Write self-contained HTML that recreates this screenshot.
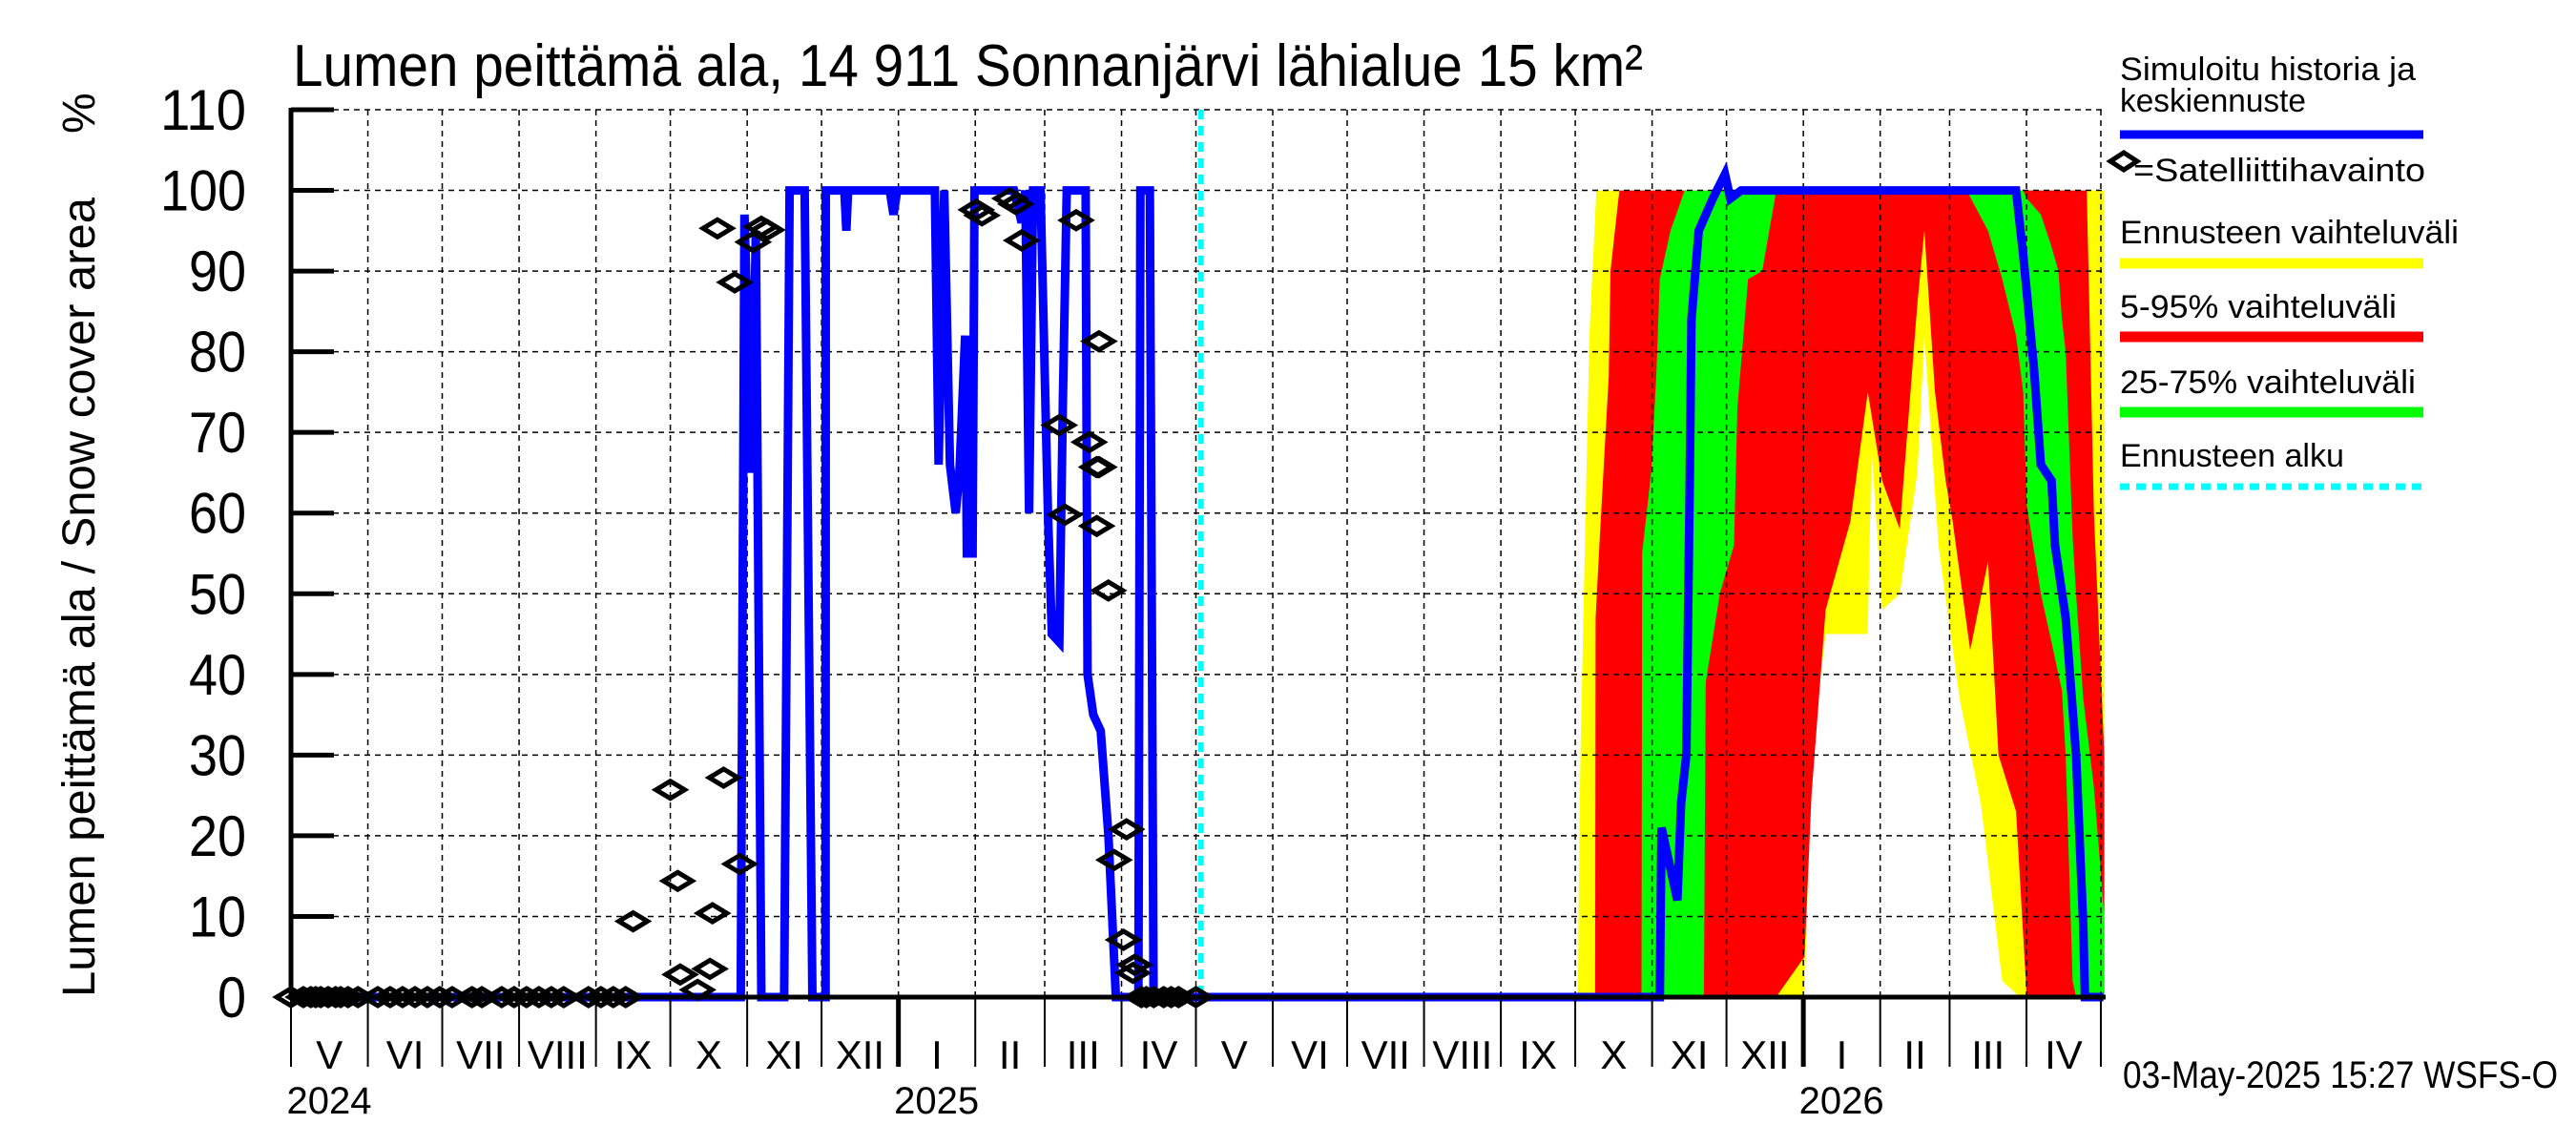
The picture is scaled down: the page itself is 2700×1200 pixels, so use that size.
<!DOCTYPE html>
<html><head><meta charset="utf-8"><style>
body{margin:0;background:#fff}
svg{display:block}
text{font-family:"Liberation Sans Narrow","Liberation Sans",sans-serif;fill:#000}
</style></head><body>
<svg id="chart" width="2700" height="1200" viewBox="0 0 2700 1200" xmlns="http://www.w3.org/2000/svg">
<rect width="2700" height="1200" fill="#fff"/>
<text x="307" y="90" font-size="62" textLength="1415" lengthAdjust="spacingAndGlyphs">Lumen peittämä ala, 14 911 Sonnanjärvi lähialue 15 km²</text>
<text transform="translate(99,1045) rotate(-90)" font-size="48" textLength="838" lengthAdjust="spacingAndGlyphs">Lumen peittämä ala / Snow cover area</text>
<text transform="translate(99,140) rotate(-90)" font-size="48">%</text>
<g id="bands"></g>
<g id="grid"></g>
<g id="series"></g>
<g id="axes"></g>
<g id="legend">
<text x="2222" y="84" font-size="34" textLength="310" lengthAdjust="spacingAndGlyphs">Simuloitu historia ja</text>
<text x="2222" y="117" font-size="34" textLength="195" lengthAdjust="spacingAndGlyphs">keskiennuste</text>
<line x1="2222" y1="141" x2="2540" y2="141" stroke="#0000ff" stroke-width="9"/>
<path d="M2212 169 L2226 160 L2240 169 L2226 178 Z" fill="none" stroke="#000" stroke-width="5"/>
<text x="2236" y="190" font-size="34" textLength="306" lengthAdjust="spacingAndGlyphs">=Satelliittihavainto</text>
<text x="2222" y="255" font-size="34" textLength="355" lengthAdjust="spacingAndGlyphs">Ennusteen vaihteluväli</text>
<line x1="2222" y1="276" x2="2540" y2="276" stroke="#ffff00" stroke-width="11"/>
<text x="2222" y="333" font-size="34" textLength="290" lengthAdjust="spacingAndGlyphs">5-95% vaihteluväli</text>
<line x1="2222" y1="353" x2="2540" y2="353" stroke="#ff0000" stroke-width="11"/>
<text x="2222" y="412" font-size="34" textLength="310" lengthAdjust="spacingAndGlyphs">25-75% vaihteluväli</text>
<line x1="2222" y1="432" x2="2540" y2="432" stroke="#00ff00" stroke-width="11"/>
<text x="2222" y="489" font-size="34" textLength="235" lengthAdjust="spacingAndGlyphs">Ennusteen alku</text>
<line x1="2222" y1="510" x2="2540" y2="510" stroke="#00ffff" stroke-width="7" stroke-dasharray="10,7"/>
</g>
<text x="2225" y="1140" font-size="40" textLength="456" lengthAdjust="spacingAndGlyphs">03-May-2025 15:27 WSFS-O</text>
</svg>
<script>
// days since 2024-05-01
const yTicks=[0,10,20,30,40,50,60,70,80,90,100,110];
const monthLabels=["I","II","III","IV","V","VI","VII","VIII","IX","X","XI","XII"];
const forecastStartDay=367;
const blueDays=[0,181.4,182.9,185.9,187.5,189.7,198.9,201.1,207.2,210.3,215.6,215.7,223.2,224,224.7,241.5,243,244.5,259.7,261.2,263.5,265.8,268.1,269.6,271.9,272.6,274.9,275.7,291.6,294.7,296.2,297.7,299.3,302.3,305.3,306.9,309.9,311.4,312.9,320.5,321.3,323.6,326.6,329.7,332.7,341.8,342.6,346.4,347.9,552.1,552.8,559.2,560.7,562.8,564.2,564.9,567.8,573.5,578.4,580.6,584.9,695.8,698.7,703,705.8,710.1,711.5,715.8,720,722.9,723.6,731];
const blueVals=[0,0,97,65,95,0,0,100,100,0,0,100,100,95,100,100,97,100,100,66,100,66,60,65,82,55,55,100,100,96,100,60,100,100,60,45,44,75,100,100,40,35,33,20,0,0,100,100,0,0,21,12,24,30,64,84,95,99,102,99,100,100,92,78,66,64,56,47,30,9,0,0];
const yelDays=[519.1,519.4,520.1,523.7,526.5,610.5,613.3,619,627.5,636,637.5,641.8,648.9,656,658.8,664.5,673,681.6,690.2,697.3,731.4];
const yelLo=[0,0,0,0,0,0,30,45,45,45,68,48,50,65,82,56,37,24,2,0,0];
const yelHi=[0,12,30,82,100,100,100,100,100,100,100,100,100,100,100,100,100,100,100,100,100];
const redDays=[526,526.2,527.9,531.5,532.2,535.8,599,610.5,613.3,619,629,636,641.8,648.9,656,658.8,663.1,667.4,670.2,677.3,684.5,688.7,695.8,700.1,724.3,727.2,731.4];
const redLo=[0,0,0,0,0,0,0,5,25,48,59,75,64,58,86,95,75,64,59,43,54,30,23,0,0,0,0];
const redHi=[0,47,57,77,90,100,100,100,100,100,100,100,100,100,100,100,100,100,100,100,100,100,100,100,100,60,30];
const grnDays=[544.7,545,548.6,550.7,552.1,556.4,562.1,569.9,570.6,576.3,582,583.4,587.7,593.4,599.1,675.9,684.5,690.2,695.8,698.7,700.1,705.8,710.1,712.9,714.3,715.8,718.6,720,722.9,727.2,731.4];
const grnLo=[0,0,0,0,0,0,0,0,39,50,56,73,89,90,100,100,95,89,82,75,61,50,44,40,38,30,2,0,0,0,0];
const grnHi=[0,55,65,77,89,95,100,100,100,100,100,100,100,100,100,100,100,100,100,100,99,97,93,90,84,80,57,50,37,26,10];
const obsDays=[0,5,8,10,12,15,18,20,23,27,35,40,45,50,55,60,65,73,77,85,90,95,100,105,110,120,125,130,135,138,153,156,157,164,169,170,172,174.5,179,181,186.4,189.7,192,276.4,278.7,290,292.4,294.7,309.9,312.2,316.7,322,325,325.9,325,325.9,329.7,332,337,335.8,340.3,339.6,343,345,348,352,355,358,365];
const obsVals=[0,0,0,0,0,0,0,0,0,0,0,0,0,0,0,0,0,0,0,0,0,0,0,0,0,0,0,0,0,9.4,25.7,14.4,2.8,0.9,3.5,10.4,95.3,27.2,88.6,16.5,93.6,95.5,95.1,97.6,96.9,99,98.3,93.8,70.9,59.8,96.3,68.8,65.7,65.7,58.4,81.3,50.4,17,20.8,7.1,4,3,0,0,0,0,0,0,0];

const NS="http://www.w3.org/2000/svg";
const X0=305,PXD=2.5986,Y0=1045,PXV=8.4545,RIGHT=2207,TOP=115;
function xs(d){return X0+d*PXD;}
function ys(v){return Y0-v*PXV;}
function mk(tag,attrs,parent){const e=document.createElementNS(NS,tag);for(const k in attrs)e.setAttribute(k,attrs[k]);parent.appendChild(e);return e;}
const bands=document.getElementById('bands'),grid=document.getElementById('grid'),series=document.getElementById('series'),axes=document.getElementById('axes');

function band(days,lo,hi,color,name){
  let pts=[];
  for(let i=0;i<days.length;i++)pts.push(xs(days[i]).toFixed(1)+','+ys(hi[i]).toFixed(1));
  for(let i=days.length-1;i>=0;i--)pts.push(xs(days[i]).toFixed(1)+','+ys(lo[i]).toFixed(1));
  const p=mk('polygon',{points:pts.join(' '),fill:color},bands);
  
  
}
band(yelDays,yelLo,yelHi,'#ffff00','band-min-max');
band(redDays,redLo,redHi,'#ff0000','band-5-95');
band(grnDays,grnLo,grnHi,'#00ff00','band-25-75');

yTicks.forEach(v=>{
  if(v>0){const g=mk('line',{x1:X0,x2:RIGHT,y1:ys(v),y2:ys(v),stroke:'#000','stroke-width':1.5,'stroke-dasharray':'6,5'},grid);
  
  }
  const t=mk('line',{x1:X0,x2:X0+45,y1:ys(v),y2:ys(v),stroke:'#000','stroke-width':5},axes);
  
  
  const s=String(v);
  const l=mk('text',{x:258,y:ys(v)+21,'font-size':60,'text-anchor':'end',textLength:s.length*30,lengthAdjust:'spacingAndGlyphs'},axes);
  l.textContent=s;
  
  
});

const base=Date.UTC(2024,4,1);
for(let i=0;i<=24;i++){
  const y=2024+Math.floor((4+i)/12),m=(4+i)%12;
  const d=(Date.UTC(y,m,1)-base)/86400000;
  const x=xs(d);
  if(i>0){const g=mk('line',{x1:x,x2:x,y1:TOP,y2:Y0,stroke:'#000','stroke-width':1.5,'stroke-dasharray':'6,5'},grid);
  
  }
  const t=mk('line',{x1:x,x2:x,y1:Y0,y2:1118,stroke:'#000','stroke-width':m===0?5:2},axes);
  
  
  if(i<24){
    const d2=(Date.UTC(m===11?y+1:y,(m+1)%12,1)-base)/86400000;
    const lb=mk('text',{x:(x+xs(d2))/2,y:1120,'font-size':42,'text-anchor':'middle'},axes);
    lb.textContent=monthLabels[m];
    
    
  }
  if(m===0||i===0){
    const yl=mk('text',{x:x+40,y:1167,'font-size':40,'text-anchor':'middle'},axes);
    yl.textContent=y;
    
    
  }
}
const ya=mk('line',{x1:X0,x2:X0,y1:TOP-2,y2:Y0+2,stroke:'#000','stroke-width':5},axes);


const xa=mk('line',{x1:X0,x2:RIGHT,y1:Y0,y2:Y0,stroke:'#000','stroke-width':5},axes);



const fx=xs(forecastStartDay);
const fl=mk('line',{x1:fx,x2:fx,y1:TOP,y2:Y0,stroke:'#00ffff','stroke-width':6,'stroke-dasharray':'10,7'},series);



const bp=mk('polyline',{points:blueDays.map((d,i)=>xs(d).toFixed(1)+','+ys(blueVals[i]).toFixed(1)).join(' '),fill:'none',stroke:'#0000ff','stroke-width':9,'stroke-linejoin':'miter'},series);



obsDays.forEach((d,i)=>{
  const cx=xs(d),cy=ys(obsVals[i]);
  const p=mk('path',{d:`M${cx-15} ${cy} L${cx} ${cy-9} L${cx+15} ${cy} L${cx} ${cy+9} Z`,fill:'none',stroke:'#000','stroke-width':5},series);
  
  
});
</script>
</body></html>
